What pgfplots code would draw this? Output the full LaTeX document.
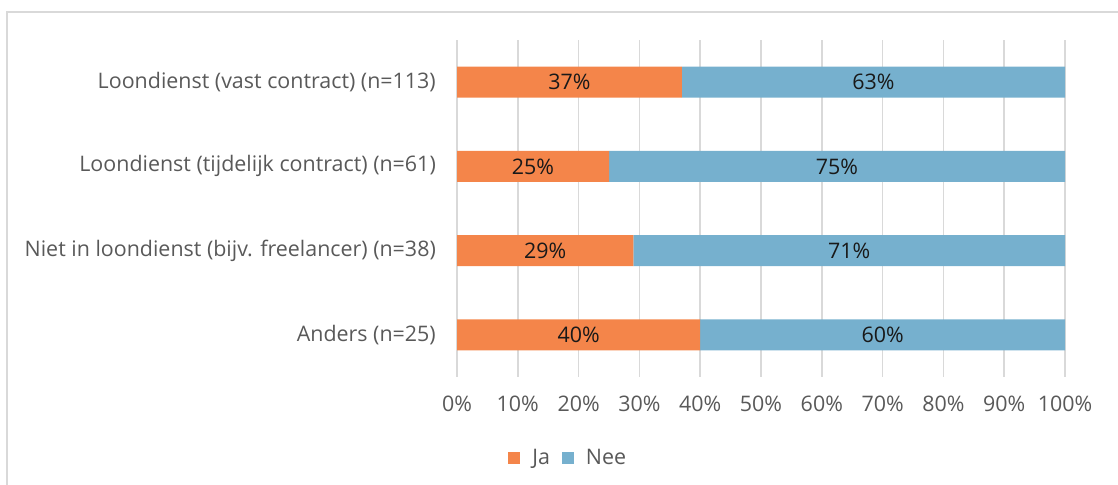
\documentclass[border=0pt]{standalone}
\usepackage{pgfplots}
\usepackage{pgfplotstable}
\pgfplotsset{compat=1.18}
\usepackage{fontspec}
\setmainfont{Open Sans}
\definecolor{ja}{HTML}{F4854A}
\definecolor{nee}{HTML}{76B0CE}
\definecolor{txt}{HTML}{595959}
\definecolor{gridc}{HTML}{D9D9D9}
\pgfplotstableread{
y ja nee
0 40 60
1 29 71
2 25 75
3 37 63
}\data
\begin{document}
\begin{tikzpicture}[x=1bp,y=1bp]
\useasboundingbox (0,0) rectangle (1118,485);
\draw[gridc, line width=1.5bp] (7,0) -- (7,473) -- (1118,473);
\begin{axis}[
  at={(457bp,108bp)}, anchor=south west,
  scale only axis, width=608bp, height=337bp,
  xbar stacked, bar width=31bp,
  xmin=0, xmax=100, ymin=-0.5, ymax=3.5,
  /pgf/number format/assume math mode=true,
  xtick={0,10,...,100},
  xticklabel={\pgfmathprintnumber{\tick}\%},
  ytick={0,1,2,3},
  yticklabels={Anders (n=25), Niet in loondienst (bijv. freelancer) (n=38), Loondienst (tijdelijk contract) (n=61), Loondienst (vast contract) (n=113)},
  axis line style={draw=none}, major tick length=0,
  xmajorgrids, grid style={gridc, line width=1.5bp},
  ticklabel style={font=\fontsize{21.5}{26}\selectfont, text=txt},
  yticklabel style={anchor=east, inner sep=0pt, xshift=-21bp},
  xticklabel style={anchor=north, inner sep=0pt, yshift=-19bp},
  point meta=explicit,
  nodes near coords={\pgfmathprintnumber{\pgfplotspointmeta}\%},
  every node near coord/.append style={anchor=center, font=\fontsize{21.5}{26}\selectfont, text=black!90},
  legend columns=2,
  legend style={draw=none, fill=none, at={(0.183,-0.240)}, anchor=center,
    font=\fontsize{21.5}{26}\selectfont, text=txt, column sep=10bp},
  legend image code/.code={\fill[#1] (0bp,-6bp) rectangle (12bp,6bp);},
]
\addplot[fill=ja, draw=none] table[x=ja, y=y, meta=ja] \data;
\addplot[fill=nee, draw=none] table[x=nee, y=y, meta=nee] \data;
\legend{Ja, Nee}
\end{axis}
\end{tikzpicture}
\end{document}
